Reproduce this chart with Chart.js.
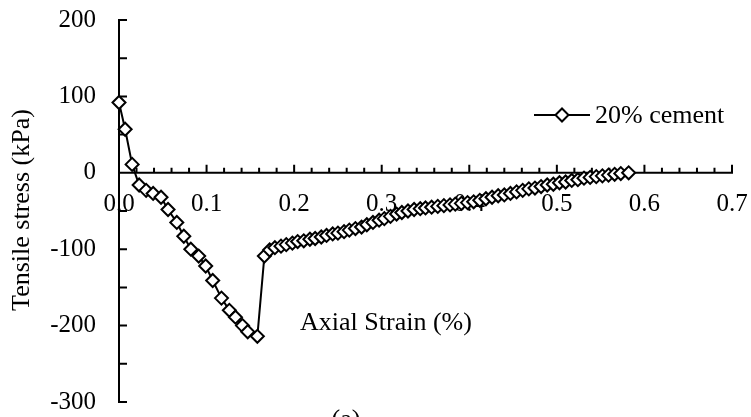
<!DOCTYPE html>
<html>
<head>
<meta charset="utf-8">
<script src="https://cdn.jsdelivr.net/npm/chart.js@4/dist/chart.umd.min.js"></script>
<style>
  html, body { margin: 0; padding: 0; background: #fff; }
  #wrap { width: 751px; height: 417px; }
</style>
</head>
<body>
<div id="wrap"><canvas id="c" width="751" height="417"></canvas></div>
<script>
// Tensile stress vs axial strain, 20% cement specimen
const seriesLabel = '20% cement';
const strain = [
  0, 0.007, 0.015, 0.023, 0.031, 0.039, 0.048, 0.056, 0.066, 0.074,
  0.082, 0.091, 0.099, 0.107, 0.117, 0.126, 0.133, 0.141, 0.147, 0.158,
  0.166, 0.172, 0.178, 0.185, 0.191, 0.198, 0.204, 0.211, 0.218, 0.224,
  0.231, 0.237, 0.244, 0.250, 0.257, 0.263, 0.270, 0.277, 0.283, 0.290,
  0.297, 0.303, 0.310, 0.317, 0.323, 0.330, 0.337, 0.344, 0.350, 0.357,
  0.364, 0.371, 0.378, 0.384, 0.391, 0.398, 0.405, 0.412, 0.419, 0.426,
  0.433, 0.440, 0.447, 0.454, 0.461, 0.468, 0.475, 0.482, 0.489, 0.496,
  0.503, 0.510, 0.517, 0.524, 0.531, 0.538, 0.545, 0.552, 0.559, 0.566,
  0.573, 0.582
];
const stress = [
  92, 57, 11, -16, -23, -27, -32, -48, -65, -83,
  -100, -109, -122, -141, -164, -180, -189, -200, -208, -214,
  -109, -101, -98, -96, -94, -92, -90, -89, -87, -86,
  -84, -82, -80, -79, -77, -75, -73, -71, -68, -65,
  -62, -60, -57, -54, -52, -50, -48, -47, -46, -45,
  -44, -43, -42, -41, -40, -39, -38, -36, -34, -32,
  -30, -29, -27, -25, -23, -21, -20, -18, -16, -15,
  -13, -12, -10, -9, -7, -6, -5, -4, -3, -2,
  -1, 0
];
const xTickValues = [0, 0.1, 0.2, 0.3, 0.4, 0.5, 0.6, 0.7];
const yTickValues = [-300, -200, -100, 0, 100, 200];
const xTitle = 'Axial Strain (%)';
const yTitle = 'Tensile stress (kPa)';
const panelTag = '(a)';

const SERIF = "'Liberation Serif', 'Times New Roman', serif";
Chart.defaults.font.family = SERIF;
Chart.defaults.color = '#000';

// Axes crossing at the origin, with inward tick marks
const crossAxes = {
  id: 'crossAxes',
  beforeDatasetsDraw(chart) {
    const { ctx, scales: { x, y } } = chart;
    const x0 = x.getPixelForValue(0);
    const y0 = y.getPixelForValue(0);
    const xEnd = x.getPixelForValue(xTickValues[xTickValues.length - 1]);
    const yTop = y.getPixelForValue(yTickValues[yTickValues.length - 1]);
    const yBot = y.getPixelForValue(yTickValues[0]);
    ctx.save();
    ctx.strokeStyle = '#000';
    ctx.lineWidth = 2;
    ctx.lineCap = 'butt';
    ctx.beginPath();
    ctx.moveTo(x0, yTop - 1); ctx.lineTo(x0, yBot + 1);
    ctx.moveTo(x0 - 1, y0); ctx.lineTo(xEnd + 1, y0);
    // y ticks every 50
    for (let v = yTickValues[0]; v <= yTickValues[yTickValues.length - 1]; v += 50) {
      const py = y.getPixelForValue(v);
      ctx.moveTo(x0, py); ctx.lineTo(x0 + 8, py);
    }
    // x ticks every 0.02, longer at every 0.1
    for (let i = 1; i <= 35; i++) {
      const px = x.getPixelForValue(i * 0.02);
      const len = (i % 5 === 0) ? 8 : 5;
      ctx.moveTo(px, y0); ctx.lineTo(px, y0 - len);
    }
    ctx.stroke();
    ctx.restore();
  },
  afterDraw(chart) {
    const { ctx } = chart;
    const ds = chart.data.datasets[0];
    ctx.save();
    ctx.fillStyle = '#000';
    // axis titles
    ctx.font = '26px ' + SERIF;
    ctx.textAlign = 'center';
    ctx.textBaseline = 'middle';
    ctx.fillText(xTitle, 386, 323);
    ctx.save();
    ctx.translate(22, 210);
    ctx.rotate(-Math.PI / 2);
    ctx.fillText(yTitle, 0, 0);
    ctx.restore();
    // panel tag, partly below the lower edge
    ctx.textBaseline = 'top';
    ctx.fillText(panelTag, 346, 407);
    // legend entry
    const ly = 115;
    ctx.strokeStyle = ds.borderColor;
    ctx.lineWidth = ds.borderWidth;
    ctx.beginPath();
    ctx.moveTo(534, ly); ctx.lineTo(590, ly);
    ctx.stroke();
    ctx.fillStyle = ds.pointBackgroundColor;
    ctx.strokeStyle = ds.pointBorderColor;
    ctx.lineWidth = ds.pointBorderWidth;
    Chart.helpers.drawPoint(ctx, {
      pointStyle: 'rectRot', radius: ds.pointRadius, borderWidth: ds.pointBorderWidth
    }, 562, ly);
    ctx.textAlign = 'left';
    ctx.textBaseline = 'middle';
    ctx.fillStyle = '#000';
    ctx.fillText(ds.label, 595, ly + 1);
    ctx.restore();
  }
};

new Chart(document.getElementById('c'), {
  type: 'scatter',
  data: {
    datasets: [{
      label: seriesLabel,
      data: strain.map((s, i) => ({ x: s, y: stress[i] })),
      showLine: true,
      borderColor: '#000',
      borderWidth: 2,
      pointStyle: 'rectRot',
      pointRadius: 6.5,
      pointHoverRadius: 6.5,
      pointBorderWidth: 2,
      pointBackgroundColor: '#fff',
      pointBorderColor: '#000',
      tension: 0,
      clip: false
    }]
  },
  options: {
    responsive: false,
    animation: false,
    events: [],
    layout: { padding: { left: 0, top: 20, right: 19, bottom: 15 } },
    plugins: { legend: { display: false }, tooltip: { enabled: false } },
    scales: {
      x: {
        type: 'linear',
        min: 0, max: 0.7,
        position: { y: 0 },
        grid: { display: false, drawTicks: false },
        border: { display: false },
        afterBuildTicks(scale) { scale.ticks = xTickValues.map(v => ({ value: v })); },
        afterFit(scale) {
          scale.paddingLeft = 0; scale.paddingRight = 0;
          scale.paddingTop = 0; scale.paddingBottom = 0;
        },
        ticks: {
          autoSkip: false, maxRotation: 0, padding: 17,
          font: { size: 25, family: SERIF },
          color: '#000',
          callback: v => Number(v).toFixed(1)
        }
      },
      y: {
        type: 'linear',
        min: -300, max: 200,
        position: 'left',
        grid: { display: false, drawTicks: false },
        border: { display: false },
        afterBuildTicks(scale) { scale.ticks = yTickValues.map(v => ({ value: v })); },
        afterFit(scale) {
          scale.width = 119;
          scale.paddingTop = 0; scale.paddingBottom = 0;
          scale.paddingLeft = 0; scale.paddingRight = 0;
        },
        ticks: {
          autoSkip: false, padding: 23,
          font: { size: 25, family: SERIF },
          color: '#000',
          callback: v => String(v)
        }
      }
    }
  },
  plugins: [crossAxes]
});
</script>
</body>
</html>
